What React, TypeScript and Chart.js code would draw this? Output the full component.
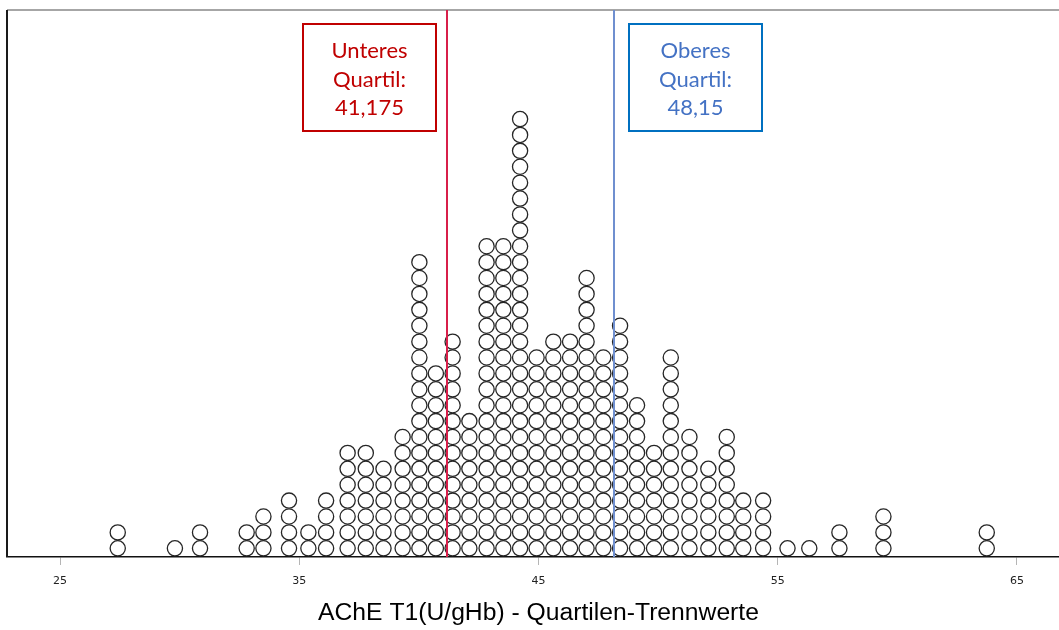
import React, { useEffect, useRef } from "react";
import { Chart, registerables } from "chart.js";

Chart.register(...registerables);

// Column positions (x value) and number of stacked dots in each column
const binValues = [
  27.41, 29.8, 30.85, 32.8, 33.5, 34.57, 35.38, 36.12, 37.02, 37.78, 38.52, 39.32,
  40.02, 40.71, 41.41, 42.11, 42.83, 43.53, 44.23, 44.92, 45.62, 46.32, 47.01, 47.71,
  48.41, 49.12, 49.83, 50.53, 51.31, 52.1, 52.87, 53.56, 54.39, 55.41, 56.32, 57.58,
  59.42, 63.74,
];
const binCounts = [
  2, 1, 2, 2, 3, 4, 2, 4, 7, 7, 6, 8,
  19, 12, 14, 9, 20, 20, 28, 13, 14, 14, 18, 13,
  15, 10, 7, 13, 8, 6, 8, 4, 4, 1, 1, 2,
  3, 2,
];
const tickValues = [25, 35, 45, 55, 65];
const lowerQuartile = 41.175;
const upperQuartile = 48.15;
const lowerLabel = ["Unteres", "Quartil:", "41,175"];
const upperLabel = ["Oberes", "Quartil:", "48,15"];
const axisTitle = "AChE T1(U/gHb) - Quartilen-Trennwerte";

const decorPlugin = {
  id: "decor",
  afterDatasetsDraw(chart: any) {
    const { ctx, chartArea } = chart;
    const xs = chart.scales.x;
    const { left, right, top, bottom } = chartArea;
    ctx.save();
    // frame
    ctx.strokeStyle = "#a6a6a6";
    ctx.lineWidth = 2;
    ctx.beginPath();
    ctx.moveTo(left, top);
    ctx.lineTo(right, top);
    ctx.stroke();
    ctx.strokeStyle = "#1a1a1a";
    ctx.lineWidth = 2;
    ctx.beginPath();
    ctx.moveTo(left, top);
    ctx.lineTo(left, bottom);
    ctx.stroke();

    // quartile lines
    const xl = Math.round(xs.getPixelForValue(lowerQuartile));
    const xu = Math.round(xs.getPixelForValue(upperQuartile));
    ctx.lineWidth = 2;
    ctx.strokeStyle = "#d81f4a";
    ctx.beginPath();
    ctx.moveTo(xl, top);
    ctx.lineTo(xl, bottom);
    ctx.stroke();
    ctx.strokeStyle = "#6f8fcf";
    ctx.beginPath();
    ctx.moveTo(xu, top);
    ctx.lineTo(xu, bottom);
    ctx.stroke();

    // label boxes
    const drawBox = (bx: number, lines: string[], border: string, color: string) => {
      const by = 24;
      const bw = 133;
      const bh = 107;
      ctx.fillStyle = "#ffffff";
      ctx.fillRect(bx, by, bw, bh);
      ctx.strokeStyle = border;
      ctx.lineWidth = 2;
      ctx.strokeRect(bx, by, bw, bh);
      ctx.fillStyle = color;
      ctx.font = "22px Lato, 'Open Sans', sans-serif";
      ctx.textAlign = "center";
      ctx.textBaseline = "alphabetic";
      lines.forEach((t, i) => {
        ctx.fillText(t, bx + bw / 2, by + 34 + i * 28.5);
      });
    };
    drawBox(xl - 144, lowerLabel, "#c00000", "#c00000");
    drawBox(xu + 15, upperLabel, "#0070c0", "#4472c4");

    // axis title
    ctx.fillStyle = "#000000";
    ctx.font = "24.7px 'Liberation Sans', Arial, sans-serif";
    ctx.textAlign = "center";
    ctx.textBaseline = "middle";
    ctx.fillText(axisTitle, xs.getPixelForValue(45), 613);
    ctx.restore();
  },
};

export default function App() {
  const ref = useRef<HTMLCanvasElement | null>(null);
  useEffect(() => {
    if (!ref.current) return;
    const points: { x: number; y: number }[] = [];
    binValues.forEach((v, i) => {
      for (let k = 1; k <= binCounts[i]; k++) points.push({ x: v, y: k });
    });
    const chart = new Chart(ref.current, {
      type: "scatter",
      data: {
        datasets: [
          {
            data: points,
            pointRadius: 7.6,
            pointHoverRadius: 7.6,
            pointBorderWidth: 1.3,
            pointBackgroundColor: "#ffffff",
            pointBorderColor: "#262626",
          },
        ],
      },
      options: {
        responsive: false,
        devicePixelRatio: 1,
        animation: false,
        events: [],
        layout: { autoPadding: false, padding: { left: 7, top: 10, right: 0, bottom: 0 } },
        plugins: { legend: { display: false }, tooltip: { enabled: false } },
        scales: {
          x: {
            type: "linear",
            min: 22.78,
            max: 66.76,
            afterBuildTicks: (s: any) => {
              s.ticks = tickValues.map((v) => ({ value: v }));
            },
            afterFit: (s: any) => {
              s.height = 73;
              s.paddingLeft = 0;
              s.paddingRight = 0;
            },
            grid: {
              drawOnChartArea: false,
              drawTicks: true,
              tickLength: 8,
              color: "#b5b5b5",
              lineWidth: 1,
            },
            border: { display: true, color: "#111111", width: 1.5 },
            ticks: {
              font: { family: "'DejaVu Sans', sans-serif", size: 11 },
              color: "#222222",
              padding: 10,
              maxRotation: 0,
              autoSkip: false,
            },
          },
          y: {
            type: "linear",
            display: false,
            min: 0.453,
            max: 34.86,
          },
        },
      },
      plugins: [decorPlugin],
    } as any);
    return () => chart.destroy();
  }, []);
  return (
    <div style={{ position: "absolute", left: 0, top: 0, width: 1059, height: 630 }}>
      <canvas ref={ref} width={1059} height={630} style={{ display: "block" }} />
    </div>
  );
}
